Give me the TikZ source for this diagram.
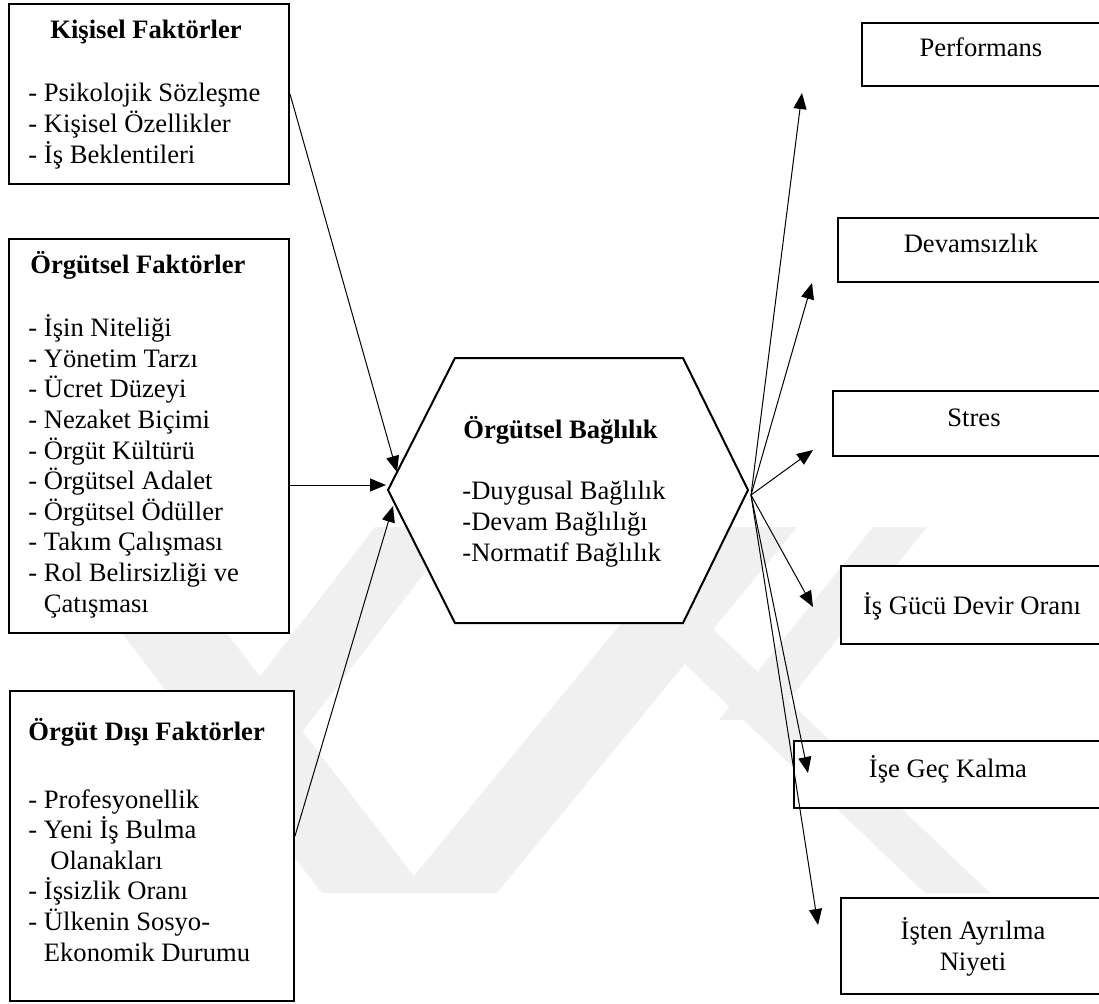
\documentclass[tikz,border=0pt]{standalone}
\usepackage{fontspec}
\setmainfont{Liberation Serif}
\usetikzlibrary{arrows.meta}

\begin{document}
\begin{tikzpicture}[x=0.5pt, y=-0.5pt,
  every node/.style={font=\fontsize{13.3pt}{15.3pt}\selectfont},
  factor/.style={draw, line width=1pt, fill=white, anchor=north west, inner sep=0pt},
  outcome/.style={draw, line width=1pt, fill=white, anchor=north west, inner sep=0pt, minimum width=160pt},
  head/.style={font=\fontsize{13.3pt}{15.3pt}\selectfont\bfseries, inner sep=0pt},
  items/.style={align=left, inner sep=0pt, anchor=base west},
  label/.style={inner sep=0pt, anchor=base, align=center},
  link/.style={-{Triangle[length=8pt,width=6.5pt]}, line width=0.5pt},
  wmark/.style={fill=black!6, draw=none}]
\useasboundingbox (0,0) rectangle (1099,1003);
\clip (0,0) rectangle (1099,1003);

% faint watermark
\fill[wmark] (40,527) -- (145,527) -- (427,893) -- (322,893) -- cycle;
\fill[wmark] (375,527) -- (460,527) -- (178,893) -- (93,893) -- cycle;
\fill[wmark] (700,527) -- (797,527) -- (497,893) -- (400,893) -- cycle;
\fill[wmark] (648,629) -- (713,629) -- (990,893) -- (925,893) -- cycle;
\fill[wmark] (873,527) -- (927,527) -- (773,720) -- (719,720) -- cycle;

% factor boxes
\node[factor, minimum width=140pt, minimum height=90pt] (kisisel) at (8,3) {};
\node[factor, minimum width=140pt, minimum height=197pt] (orgutsel) at (8,238) {};
\node[factor, minimum width=142pt, minimum height=155pt] (disi) at (9,690) {};

% lists are placed by the baseline of their last line
\node[head, anchor=base] (kisiselBaslik) at (146,38) {Kişisel Faktörler};
\node[items] (kisiselListe) at (28,163) {- Psikolojik Sözleşme\\- Kişisel Özellikler\\- İş Beklentileri};

\node[head, anchor=base west] (orgutselBaslik) at (30,273) {Örgütsel Faktörler};
\node[items] (orgutselListe) at (28,612) {- İşin Niteliği\\- Yönetim Tarzı\\- Ücret Düzeyi\\- Nezaket Biçimi\\- Örgüt Kültürü\\- Örgütsel Adalet\\- Örgütsel Ödüller\\- Takım Çalışması\\- Rol Belirsizliği ve\\\phantom{- }Çatışması};

\node[head, anchor=base west] (disiBaslik) at (28,740) {Örgüt Dışı Faktörler};
\node[items] (disiListe) at (28,961) {- Profesyonellik\\- Yeni İş Bulma\\\hspace*{11pt}Olanakları\\- İşsizlik Oranı\\- Ülkenin Sosyo-\\\phantom{- }Ekonomik Durumu};

% central hexagon
\coordinate (hexNW) at (455,358);
\coordinate (hexNE) at (683,358);
\coordinate (hexE) at (748,490);
\coordinate (hexSE) at (683,623);
\coordinate (hexSW) at (455,623);
\coordinate (hexW) at (388,490);
\draw[line width=1pt, fill=white] (hexNW) -- (hexNE) -- (hexE) -- (hexSE) -- (hexSW) -- (hexW) -- cycle;

\node[head, anchor=base west] (bagBaslik) at (463,438) {Örgütsel Bağlılık};
\node[items] (bagListe) at (462,561) {-Duygusal Bağlılık\\-Devam Bağlılığı\\-Normatif Bağlılık};

% outcome boxes
\node[outcome, minimum height=31.5pt] (performans) at (861,22) {};
\node[outcome, minimum height=32pt] (devamsizlik) at (837,217) {};
\node[outcome, minimum height=32.5pt] (stres) at (832,390) {};
\node[outcome, minimum height=39pt] (isgucu) at (840,565) {};
\node[outcome, minimum height=33.5pt] (gecKalma) at (793,740) {};
\node[outcome, minimum height=48pt] (ayrilma) at (840,897) {};

\node[label] (performansYazi) at (981,56) {Performans};
\node[label] (devamsizlikYazi) at (971,252) {Devamsızlık};
\node[label] (stresYazi) at (974,426) {Stres};
\node[label] (isgucuYazi) at (972,614) {İş Gücü Devir Oranı};
\node[label] (gecKalmaYazi) at (948,777) {İşe Geç Kalma};
\node[label] (ayrilmaYazi) at (973,970) {İşten Ayrılma\\Niyeti};

% arrows in
\coordinate (inTop) at (397,472);
\coordinate (inMid) at (386,485);
\coordinate (inLow) at (393,506);
\draw[link] (kisisel.east) -- (inTop);
\draw[link] (orgutsel.east |- inMid) -- (inMid);
\draw[link] ([yshift=5pt]disi.east) -- (inLow);

% arrows out
\coordinate (fan) at (751,495);
\coordinate (toPerf) at (802,93);
\coordinate (toDevam) at (812,283);
\coordinate (toStres) at (813,450);
\coordinate (toIsgucu) at (813,607);
\coordinate (toGec) at (808,773);
\coordinate (toAyril) at (818,925);
\foreach \t in {toPerf,toDevam,toStres,toIsgucu,toGec,toAyril}
  \draw[link] (fan) -- (\t);
\end{tikzpicture}
\end{document}
